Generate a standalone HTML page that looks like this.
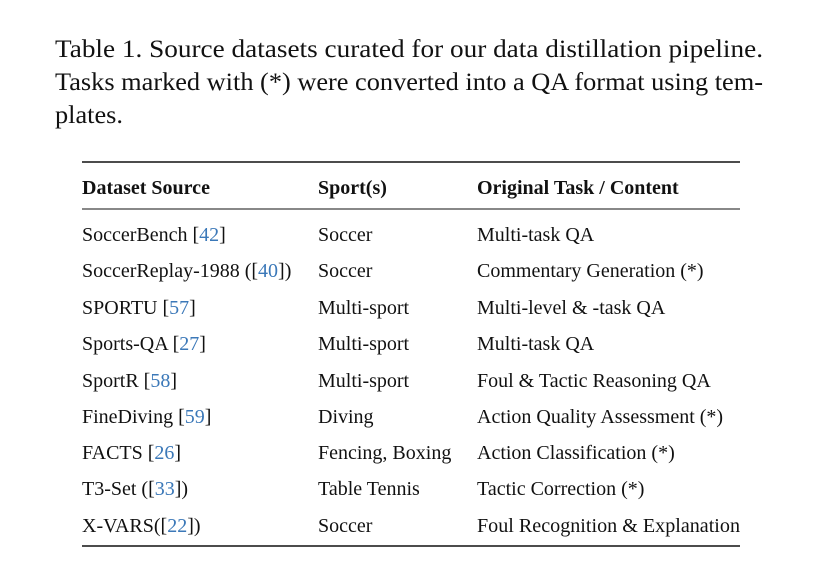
<!DOCTYPE html>
<html><head><meta charset="utf-8"><style>
html,body{margin:0;padding:0;background:#fff;width:816px;height:574px;overflow:hidden}
svg{display:block;font-family:"Liberation Serif",serif;fill:#111}
.c{font-size:25px}
.t{font-size:20px}
.h{font-size:20px;font-weight:bold}
.l{fill:#3b78b8}
</style></head><body>
<svg width="816" height="574">
<text class="c" x="55" y="57" textLength="708" lengthAdjust="spacingAndGlyphs">Table 1. Source datasets curated for our data distillation pipeline.</text>
<text class="c" x="55" y="90" textLength="708" lengthAdjust="spacingAndGlyphs">Tasks marked with (*) were converted into a QA format using tem-</text>
<text class="c" x="55" y="123" textLength="68" lengthAdjust="spacingAndGlyphs">plates.</text>
<line x1="82" x2="740" y1="162" y2="162" stroke="#111" stroke-width="1.6"/>
<text class="h" x="82" y="194">Dataset Source</text>
<text class="h" x="318" y="194">Sport(s)</text>
<text class="h" x="477" y="194">Original Task / Content</text>
<line x1="82" x2="740" y1="209" y2="209" stroke="#111" stroke-width="1"/>
<g>
<text class="t" x="82" y="241">SoccerBench [<tspan class="l">42</tspan>]</text><text class="t" x="318" y="241">Soccer</text><text class="t" x="477" y="241">Multi-task QA</text>
<text class="t" x="82" y="277">SoccerReplay-1988 ([<tspan class="l">40</tspan>])</text><text class="t" x="318" y="277">Soccer</text><text class="t" x="477" y="277">Commentary Generation (*)</text>
<text class="t" x="82" y="314">SPORTU [<tspan class="l">57</tspan>]</text><text class="t" x="318" y="314">Multi-sport</text><text class="t" x="477" y="314">Multi-level &amp; -task QA</text>
<text class="t" x="82" y="350">Sports-QA [<tspan class="l">27</tspan>]</text><text class="t" x="318" y="350">Multi-sport</text><text class="t" x="477" y="350">Multi-task QA</text>
<text class="t" x="82" y="387">SportR [<tspan class="l">58</tspan>]</text><text class="t" x="318" y="387">Multi-sport</text><text class="t" x="477" y="387">Foul &amp; Tactic Reasoning QA</text>
<text class="t" x="82" y="423">FineDiving [<tspan class="l">59</tspan>]</text><text class="t" x="318" y="423">Diving</text><text class="t" x="477" y="423">Action Quality Assessment (*)</text>
<text class="t" x="82" y="459">FACTS [<tspan class="l">26</tspan>]</text><text class="t" x="318" y="459">Fencing, Boxing</text><text class="t" x="477" y="459">Action Classification (*)</text>
<text class="t" x="82" y="495">T3-Set ([<tspan class="l">33</tspan>])</text><text class="t" x="318" y="495">Table Tennis</text><text class="t" x="477" y="495">Tactic Correction (*)</text>
<text class="t" x="82" y="532">X-VARS([<tspan class="l">22</tspan>])</text><text class="t" x="318" y="532">Soccer</text><text class="t" x="477" y="532" textLength="263" lengthAdjust="spacingAndGlyphs">Foul Recognition &amp; Explanation</text>
</g>
<line x1="82" x2="740" y1="546" y2="546" stroke="#111" stroke-width="1.6"/>
</svg>
</body></html>
